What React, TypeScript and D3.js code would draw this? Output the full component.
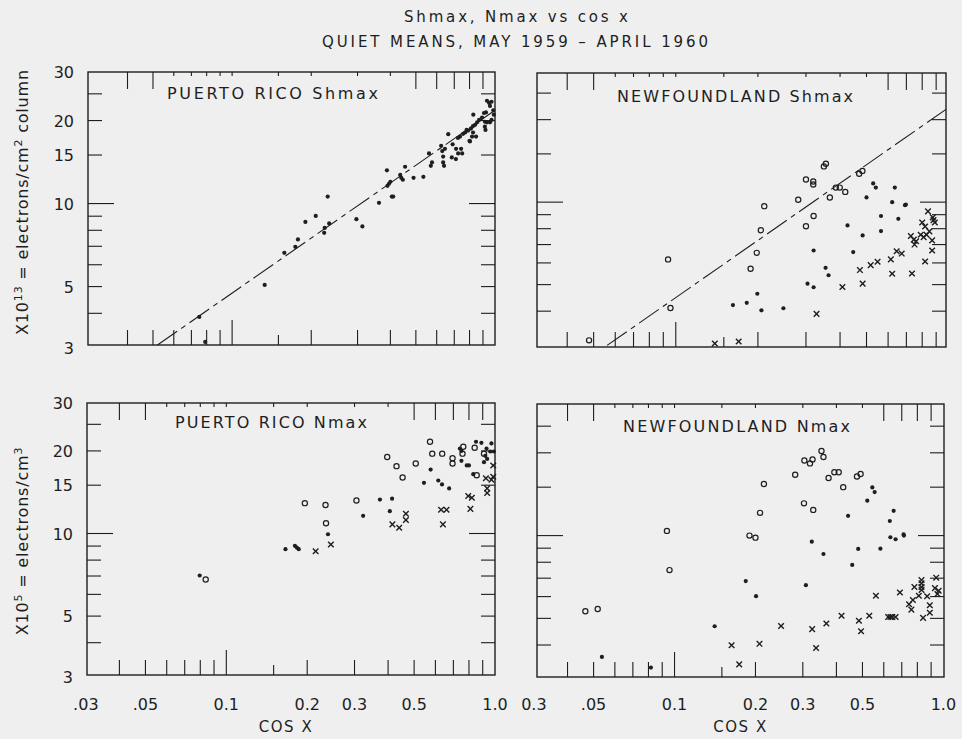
import React from 'react';
import * as d3 from 'd3';

// ---------- axis ticks / labels ----------
const xMinorTicks = [0.04, 0.05, 0.06, 0.07, 0.08, 0.09, 0.1, 0.15, 0.2, 0.3, 0.4, 0.5, 0.6, 0.7, 0.8, 0.9];
const yMinorTicks = [4, 5, 6, 7, 8, 9, 10, 15, 20, 25];
const xLabelValues = [0.03, 0.05, 0.1, 0.2, 0.3, 0.5, 1.0];
const xLabelsLeft = ['.03', '.05', '0.1', '0.2', '0.3', '0.5', '1.0'];
const xLabelsRight = ['0.3', '.05', '0.1', '0.2', '0.3', '0.5', '1.0'];
const yLabelValues = [3, 5, 10, 15, 20, 30];
const yLabels = ['3', '5', '10', '15', '20', '30'];

// ---------- data: [cos x, value] ----------
const prShDots: [number, number][] = [
  [0.075, 3.88], [0.079, 3.15], [0.133, 5.07], [0.158, 6.63], [0.174, 6.97], [0.178, 7.41],
  [0.19, 8.58], [0.208, 9.02], [0.224, 7.83], [0.225, 8.16], [0.234, 8.47], [0.231, 10.6],
  [0.297, 8.78], [0.313, 8.26], [0.362, 10.06], [0.388, 13.2], [0.39, 11.6], [0.395, 11.8],
  [0.40, 12.0], [0.405, 10.6], [0.41, 10.6], [0.436, 12.7], [0.44, 12.4], [0.446, 12.2],
  [0.455, 13.6], [0.49, 12.4], [0.534, 12.5], [0.561, 15.2], [0.57, 13.7], [0.576, 14.1],
  [0.624, 16.2], [0.63, 15.5], [0.635, 14.8], [0.635, 14.1], [0.64, 13.7], [0.645, 15.8],
  [0.664, 17.85], [0.69, 16.4], [0.685, 14.7], [0.711, 15.8], [0.743, 15.8], [0.75, 15.2],
  [0.724, 15.2], [0.71, 14.5], [0.723, 17.3], [0.736, 17.5], [0.756, 17.9], [0.77, 18.1],
  [0.79, 18.4], [0.81, 18.7], [0.825, 19.1], [0.84, 19.3], [0.855, 19.7], [0.87, 20.1],
  [0.893, 20.5], [0.827, 21.0], [0.825, 18.1], [0.818, 17.5], [0.803, 16.8], [0.847, 17.5],
  [0.908, 21.3], [0.924, 21.4], [0.916, 19.8], [0.932, 19.7], [0.957, 19.7], [0.949, 23.2],
  [0.957, 22.6], [0.932, 23.6], [0.97, 23.4], [0.985, 21.8], [0.99, 21.0], [0.97, 20.1],
  [0.915, 19.0], [0.92, 18.5], [0.78, 18.5], [0.8, 16.9]
];
const prShLine: [number, number][] = [[0.052, 3.07], [1.0, 21.8]];

const nfShCircles: [number, number][] = [
  [0.0481, 3.13], [0.0937, 6.18], [0.0956, 4.11], [0.188, 5.71], [0.198, 6.53], [0.205, 7.9],
  [0.211, 9.67], [0.281, 10.2], [0.3, 12.1], [0.3, 8.17], [0.319, 11.9], [0.319, 11.6],
  [0.32, 8.9], [0.349, 13.5], [0.355, 13.8], [0.367, 10.4], [0.386, 11.3], [0.399, 11.3],
  [0.418, 10.9], [0.47, 12.7], [0.483, 13.0]
];
const nfShDots: [number, number][] = [
  [0.162, 4.21], [0.182, 4.29], [0.199, 4.63], [0.206, 4.03], [0.248, 4.1], [0.304, 5.04],
  [0.32, 4.89], [0.32, 6.66], [0.354, 5.76], [0.363, 5.41], [0.426, 8.22], [0.447, 6.57],
  [0.484, 7.56], [0.5, 10.4], [0.529, 11.7], [0.541, 11.3], [0.565, 8.9], [0.565, 7.84],
  [0.621, 10.0], [0.635, 11.3], [0.654, 8.69], [0.692, 9.75], [0.697, 9.8]
];
const nfShCrosses: [number, number][] = [
  [0.139, 3.05], [0.170, 3.1], [0.328, 3.91], [0.408, 4.9], [0.473, 5.65], [0.484, 5.04],
  [0.518, 5.89], [0.549, 6.06], [0.614, 6.18], [0.621, 5.48], [0.645, 6.62], [0.673, 6.49],
  [0.727, 7.52], [0.734, 5.49], [0.745, 7.3], [0.75, 7.0], [0.76, 7.2], [0.80, 8.43],
  [0.82, 8.15], [0.84, 9.25], [0.85, 7.82], [0.875, 8.8], [0.89, 8.43], [0.88, 8.6],
  [0.79, 7.6], [0.81, 7.45], [0.83, 7.6], [0.87, 7.25], [0.87, 6.66], [0.82, 6.07]
];
const nfShLine: [number, number][] = [[0.056, 3.0], [0.978, 21.8]];

const prNDots: [number, number][] = [
  [0.0796, 7.03], [0.166, 8.77], [0.18, 9.02], [0.183, 8.89], [0.186, 8.77], [0.239, 9.94],
  [0.323, 11.6], [0.373, 13.3], [0.406, 12.06], [0.414, 13.4], [0.544, 15.3], [0.576, 17.1],
  [0.615, 15.6], [0.635, 15.1], [0.675, 14.6], [0.74, 20.4], [0.75, 20.0], [0.75, 18.4],
  [0.785, 17.7], [0.80, 17.7], [0.83, 16.45], [0.85, 21.6], [0.89, 21.4], [0.97, 21.3],
  [0.93, 20.4], [0.96, 19.9], [0.99, 19.9], [0.92, 19.2], [0.935, 18.7], [0.91, 18.2]
];
const prNCircles: [number, number][] = [
  [0.0838, 6.8], [0.196, 12.9], [0.234, 12.7], [0.235, 10.9], [0.305, 13.2], [0.397, 19.0],
  [0.43, 17.6], [0.453, 16.0], [0.507, 18.0], [0.573, 21.6], [0.584, 19.55], [0.636, 19.55],
  [0.695, 18.8], [0.695, 18.0], [0.757, 19.55], [0.762, 20.7], [0.84, 20.55], [0.91, 19.55],
  [0.855, 16.3]
];
const prNCrosses: [number, number][] = [
  [0.215, 8.62], [0.245, 9.12], [0.415, 10.8], [0.44, 10.5], [0.466, 11.8], [0.466, 11.2],
  [0.63, 12.2], [0.66, 12.2], [0.64, 10.8], [0.795, 13.7], [0.82, 13.5], [0.81, 12.3],
  [0.935, 14.6], [0.935, 14.05], [0.925, 15.9], [0.97, 15.7], [0.985, 16.1], [0.985, 17.7]
];

const nfNCircles: [number, number][] = [
  [0.0466, 5.31], [0.0518, 5.41], [0.0937, 10.4], [0.0958, 7.49], [0.19, 10.0], [0.2, 9.83],
  [0.208, 12.1], [0.215, 15.4], [0.281, 16.65], [0.303, 13.1], [0.304, 18.75], [0.319, 18.3],
  [0.326, 18.9], [0.328, 12.4], [0.352, 20.3], [0.358, 19.3], [0.374, 16.2], [0.393, 17.0],
  [0.408, 17.0], [0.424, 15.0], [0.477, 16.4], [0.492, 16.75]
];
const nfNDots: [number, number][] = [
  [0.0537, 3.62], [0.0817, 3.31], [0.141, 4.68], [0.184, 6.83], [0.201, 6.02], [0.308, 6.6],
  [0.324, 9.5], [0.358, 8.57], [0.442, 11.8], [0.458, 7.82], [0.482, 8.94], [0.521, 13.4],
  [0.544, 14.97], [0.555, 14.4], [0.583, 8.96], [0.632, 11.3], [0.635, 9.86], [0.653, 12.3],
  [0.664, 9.7], [0.711, 10.1], [0.713, 10.0]
];
const nfNCrosses: [number, number][] = [
  [0.163, 3.99], [0.174, 3.4], [0.207, 4.04], [0.249, 4.69], [0.325, 4.57], [0.336, 3.9],
  [0.367, 4.79], [0.418, 5.11], [0.485, 4.9], [0.494, 4.49], [0.53, 5.11], [0.561, 6.04],
  [0.623, 5.06], [0.635, 5.06], [0.646, 5.06], [0.664, 5.06], [0.689, 6.21], [0.745, 5.63],
  [0.76, 5.38], [0.77, 5.83], [0.78, 6.5], [0.81, 6.04], [0.829, 6.89], [0.829, 6.7],
  [0.829, 6.5], [0.829, 6.34], [0.84, 5.02], [0.87, 6.02], [0.89, 5.58], [0.89, 5.24],
  [0.93, 6.44], [0.95, 6.13], [0.96, 6.3], [0.94, 7.03]
];

// ---------- layout ----------
const INK = '#1e1e1e';
const FONT = 'DejaVu Sans, sans-serif';

type Panel = {
  x0: number; x1: number; y0: number; y1: number;
  xDomain: [number, number]; yDomain: [number, number];
  title: string; titleX: number; titleY: number; titleW: number;
  dots: [number, number][]; circles: [number, number][]; crosses: [number, number][];
  line: [number, number][] | null;
  topLong: number[];
};

const panels: Panel[] = [
  { x0: 88, x1: 495, y0: 72, y1: 345, xDomain: [0.0283, 1.0], yDomain: [3.07, 30],
    title: 'PUERTO RICO Shmax', titleX: 167, titleY: 99, titleW: 211,
    dots: prShDots, circles: [], crosses: [], line: prShLine, topLong: [0.04, 0.05, 0.5, 0.6, 0.7, 0.8, 0.9] },
  { x0: 537, x1: 946, y0: 73, y1: 347, xDomain: [0.031, 0.978], yDomain: [2.96, 29.6],
    title: 'NEWFOUNDLAND Shmax', titleX: 617, titleY: 102, titleW: 236,
    dots: nfShDots, circles: nfShCircles, crosses: nfShCrosses, line: nfShLine, topLong: [0.04, 0.05, 0.6, 0.7, 0.8, 0.9] },
  { x0: 87, x1: 495, y0: 403, y1: 675, xDomain: [0.0303, 1.0], yDomain: [3.05, 29.9],
    title: 'PUERTO RICO Nmax', titleX: 175, titleY: 428, titleW: 192,
    dots: prNDots, circles: prNCircles, crosses: prNCrosses, line: null, topLong: [0.04, 0.05, 0.5, 0.6, 0.7, 0.8, 0.9] },
  { x0: 537, x1: 944, y0: 404, y1: 677, xDomain: [0.0308, 1.005], yDomain: [3.06, 30.1],
    title: 'NEWFOUNDLAND Nmax', titleX: 623, titleY: 432, titleW: 227,
    dots: nfNDots, circles: nfNCircles, crosses: nfNCrosses, line: null, topLong: [0.04, 0.05, 0.6, 0.7, 0.8, 0.9] },
];

function PanelView({ p, idx }: { p: Panel; idx: number }) {
  const x = d3.scaleLog().domain(p.xDomain).range([p.x0, p.x1]);
  const y = d3.scaleLog().domain(p.yDomain).range([p.y1, p.y0]);
  const lineGen = d3.line<[number, number]>().x(d => x(d[0])).y(d => y(d[1]));
  const isBottom = idx >= 2;
  const isLeft = idx % 2 === 0;
  const labels = isLeft ? xLabelsLeft : xLabelsRight;
  return (
    <g>
      <rect x={p.x0} y={p.y0} width={p.x1 - p.x0} height={p.y1 - p.y0} fill="none" stroke={INK} strokeWidth={1.4} />
      {xMinorTicks.map(v => {
        const len = v === 0.1 ? 25 : v === 0.15 ? 10 : 15;
        const tl = p.topLong.includes(v) ? 17 : 4;
        return (
          <g key={'xt' + v}>
            <line x1={x(v)} x2={x(v)} y1={p.y1} y2={p.y1 - len} stroke={INK} strokeWidth={1.1} />
            <line x1={x(v)} x2={x(v)} y1={p.y0} y2={p.y0 + tl} stroke={INK} strokeWidth={1.1} />
          </g>
        );
      })}
      {yMinorTicks.map(v => {
        const len = v === 10 ? 26 : 14;
        return (
          <g key={'yt' + v}>
            <line x1={p.x0} x2={p.x0 + len} y1={y(v)} y2={y(v)} stroke={INK} strokeWidth={1.1} />
            <line x1={p.x1} x2={p.x1 - len} y1={y(v)} y2={y(v)} stroke={INK} strokeWidth={1.1} />
          </g>
        );
      })}
      {p.line && (
        <path d={lineGen(p.line) || ''} fill="none" stroke={INK} strokeWidth={1.1} strokeDasharray="24 5 5 5" />
      )}
      {p.dots.map((d, i) => (
        <circle key={'d' + i} cx={x(d[0])} cy={y(d[1])} r={2.1} fill={INK} />
      ))}
      {p.circles.map((d, i) => (
        <circle key={'c' + i} cx={x(d[0])} cy={y(d[1])} r={2.6} fill="none" stroke={INK} strokeWidth={1.2} />
      ))}
      {p.crosses.map((d, i) => (
        <path key={'x' + i} transform={`translate(${x(d[0])},${y(d[1])})`} d="M-2.8,-2.8L2.8,2.8M-2.8,2.8L2.8,-2.8" stroke={INK} strokeWidth={1.4} />
      ))}
      <text x={p.titleX} y={p.titleY} fontSize={16} fill={INK} fontFamily={FONT} textLength={p.titleW} lengthAdjust="spacing">{p.title}</text>
      {isLeft && yLabelValues.map((v, i) => (
        <text key={'yl' + v} x={p.x0 - 14} y={y(v) + 6} fontSize={16} fill={INK} fontFamily={FONT} textAnchor="end">{yLabels[i]}</text>
      ))}
      {isBottom && xLabelValues.map((v, i) => (
        <text key={'xl' + v} x={x(v)} y={710} fontSize={16} fill={INK} fontFamily={FONT} textAnchor="middle">{labels[i]}</text>
      ))}
      {isBottom && (
        <text x={(p.x0 + p.x1) / 2 + (isLeft ? -5 : 0)} y={732} fontSize={15} fill={INK} fontFamily={FONT} textAnchor="middle" letterSpacing={1.5}>COS X</text>
      )}
    </g>
  );
}

export default function App() {
  return (
    <div style={{ position: 'absolute', left: 0, top: 0 }}>
      <svg width={962} height={739} style={{ display: 'block' }}>
        <rect x={0} y={0} width={962} height={739} fill="#efefef" />
        <text x={516} y={22} fontSize={15} fill={INK} fontFamily={FONT} textAnchor="middle" textLength={224} lengthAdjust="spacing">Shmax, Nmax vs cos x</text>
        <text x={515} y={47} fontSize={15} fill={INK} fontFamily={FONT} textAnchor="middle" textLength={386} lengthAdjust="spacing">QUIET MEANS, MAY 1959 – APRIL 1960</text>
        {panels.map((p, i) => <PanelView key={i} p={p} idx={i} />)}
        <text transform="translate(28,202) rotate(-90)" fontSize={16} fill={INK} fontFamily={FONT} textAnchor="middle" letterSpacing={0.8}>
          X10<tspan dy={-6} fontSize={11}>13</tspan><tspan dy={6}> = electrons/cm</tspan><tspan dy={-6} fontSize={11}>2</tspan><tspan dy={6}> column</tspan>
        </text>
        <text transform="translate(28,541) rotate(-90)" fontSize={16} fill={INK} fontFamily={FONT} textAnchor="middle" letterSpacing={0.8}>
          X10<tspan dy={-6} fontSize={11}>5</tspan><tspan dy={6}> = electrons/cm</tspan><tspan dy={-6} fontSize={11}>3</tspan>
        </text>
      </svg>
    </div>
  );
}
